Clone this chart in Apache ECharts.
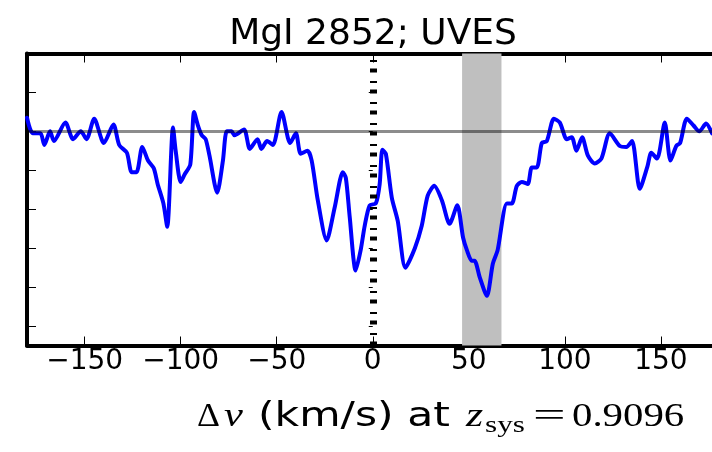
<!DOCTYPE html>
<html><head><meta charset="utf-8">
<script src="https://cdn.jsdelivr.net/npm/echarts@6/dist/echarts.min.js"></script>
<style>html,body{margin:0;padding:0;background:#fff}#c{width:712px;height:452px}</style>
</head><body><div id="c"></div>
<script>
// velocity (km/s) and normalized flux
const velocity = [-180,-177,-173,-171,-168,-166,-160,-156,-152,-149,-145,-140,-135,-132,-128,-125.5,-123,-120,-117,-114,-112,-109,-107,-104,-102.6,-100,-97.9,-95,-93,-91,-89,-87,-85,-81,-78,-76,-73.5,-72,-67,-64,-60,-58,-55,-52,-47.5,-43,-40,-37.5,-34,-31.8,-28.6,-24,-19.8,-15.6,-14,-12,-8.9,-6.3,-4.2,-1.6,1.6,3.6,5,6.8,9.9,13,17,21.9,25.5,28.6,32,36,40,44,47,49,51.5,53,55.7,59.4,62.5,65,69.8,72.4,75,77.6,80.7,82.8,85.4,88,90.6,94.3,97.4,101,103.6,106,109,112,115.6,119,123.4,128.6,132,135,139,143,145,148,152,155,158,160,163.5,167,170,173.5,176.6];
const flux = [1.07,0.99,0.99,0.93,1.00,0.95,1.045,0.96,1.00,0.96,1.065,0.94,1.035,0.93,0.89,0.79,0.79,0.92,0.85,0.81,0.73,0.63,0.51,1.02,0.90,0.74,0.78,0.83,1.10,1.03,0.98,0.96,0.875,0.685,0.85,1.00,1.00,0.98,1.01,0.91,0.96,0.91,0.95,0.93,1.10,0.94,0.99,0.885,0.90,0.85,0.645,0.44,0.61,0.79,0.76,0.56,0.285,0.39,0.515,0.62,0.63,0.73,0.905,0.885,0.66,0.54,0.30,0.40,0.515,0.67,0.72,0.645,0.525,0.62,0.455,0.39,0.335,0.335,0.25,0.155,0.32,0.39,0.63,0.63,0.72,0.74,0.73,0.815,0.815,0.94,0.95,1.065,1.045,0.96,0.97,0.90,0.97,0.875,0.835,0.86,0.99,0.925,0.92,0.95,0.705,0.82,0.89,0.86,1.045,0.85,0.925,0.94,1.065,1.03,1.00,1.04,0.99];
const xTicks = [-150,-100,-50,0,50,100,150];
const yTicks = [0,0.2,0.4,0.6,0.8,1.0,1.2];
const xRange = [-180, 176.6];
const yRange = [-0.1, 1.4];
const bandRange = [46.5, 67];
const continuum = 1.0;
const systemic = 0;
const titleText = 'MgI 2852; UVES';

const chart = echarts.init(document.getElementById('c'), null, {renderer:'canvas'});
const frame = {show:true, onZero:false, lineStyle:{color:'#000', width:4}};
function ticks(vals, len){ return {show:true, inside:true, length:len||9, customValues:vals, lineStyle:{color:'#000', width:1}}; }
const sans = 'DejaVu Sans';
const serif = 'Liberation Serif';
function txt(t, x, y, size, family, style, sx){
  return {type:'text', x:x, y:y, scaleX:sx||1, silent:true, style:{text:t, x:0, y:0, fill:'#000', fontSize:size, fontFamily:family, fontStyle:style||'normal', align:'left', verticalAlign:'bottom', textAlign:'left', textVerticalAlign:'bottom'}};
}
const option = {
  animation:false,
  grid:{left:27, right:0, top:53.5, height:292, containLabel:false},
  xAxis:[
    {type:'value', min:xRange[0], max:xRange[1], position:'bottom', axisLine:frame, axisTick:ticks(xTicks),
     axisLabel:{show:true, customValues:xTicks, formatter:v=>String(v).replace('-', '\u2212'), fontFamily:sans, fontSize:28, color:'#000', margin:2},
     splitLine:{show:false}},
    {type:'value', min:xRange[0], max:xRange[1], position:'top', axisLine:frame, axisTick:ticks(xTicks), axisLabel:{show:false}, splitLine:{show:false}}
  ],
  yAxis:[
    {type:'value', min:yRange[0], max:yRange[1], position:'left', axisLine:frame, axisTick:ticks(yTicks), axisLabel:{show:false}, splitLine:{show:false}},
    {type:'value', min:yRange[0], max:yRange[1], position:'right', axisLine:{show:false}, axisTick:ticks(yTicks, 4), axisLabel:{show:false}, splitLine:{show:false}}
  ],
  series:[
    {type:'line', data:[], z:1, silent:true,
     markArea:{silent:true, itemStyle:{color:'#bfbfbf', opacity:1}, data:[[{xAxis:bandRange[0]},{xAxis:bandRange[1]}]]}},
    {type:'line', data:velocity.map((v,i)=>[v, flux[i]]), z:3, showSymbol:false, symbol:'none', clip:true, silent:true, smooth:0.25,
     lineStyle:{color:'#0000ff', width:4, join:'round', cap:'round'}},
    {type:'line', data:[], z:5, silent:true,
     markLine:{silent:true, symbol:'none', label:{show:false}, animation:false,
       data:[{yAxis:continuum, lineStyle:{color:'rgba(0,0,0,0.45)', width:3, type:'solid'}},
             {xAxis:systemic, lineStyle:{color:'#000', width:7, type:[4,6.5,2,8.5]}}]}}
  ],
  graphic:[
    {type:'text', x:373, y:53, silent:true, style:{text:titleText, fill:'#000', fontSize:36, fontFamily:sans, align:'center', verticalAlign:'bottom', textAlign:'center', textVerticalAlign:'bottom'}},
    txt('\u0394', 197, 434, 34, serif, 'normal', 1.05),
    txt('v', 224, 434, 34, serif, 'italic', 1.25),
    txt('(km/s) at', 258, 434, 34, sans, 'normal', 1.25),
    txt('z', 466, 434, 34, serif, 'italic', 1.3),
    txt('sys', 485, 438, 24, serif, 'normal', 1.3),
    txt('=', 533, 434, 34, serif, 'normal', 1.7),
    txt('0.9096', 572, 434, 34, serif, 'normal', 1.2)
  ]
};
chart.setOption(option);
</script></body></html>
